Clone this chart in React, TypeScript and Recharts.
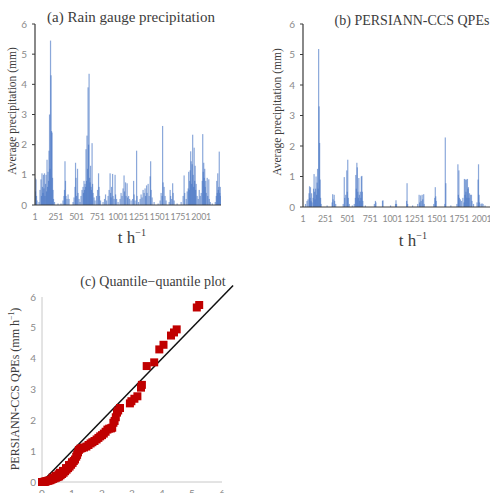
import React from 'react';
import {
  BarChart,
  Bar,
  XAxis,
  YAxis,
  ScatterChart,
  Scatter,
  ZAxis,
  ReferenceLine,
} from 'recharts';

// Hourly rain-gauge spikes (hour index, mm)
const gaugeHours = [
  1, 7, 13, 19, 25, 49, 61, 73, 79, 85, 91, 97, 103, 109, 115, 121, 128, 134, 140, 146,
  152, 158, 164, 170, 176, 182, 188, 194, 200, 206, 212, 218, 224, 236, 278, 314, 338, 350,
  356, 362, 368, 374, 386, 399, 411, 459, 471, 483, 489, 495, 501, 513, 519, 531, 543, 555,
  567, 579, 585, 591, 597, 603, 609, 615, 621, 627, 633, 640, 646, 652, 658, 664, 670, 676,
  682, 688, 694, 700, 712, 724, 742, 754, 766, 772, 778, 790, 820, 838, 850, 863, 881, 893,
  905, 911, 917, 923, 935, 941, 953, 965, 971, 983, 1001, 1025, 1037, 1049, 1061, 1073,
  1079, 1091, 1097, 1110, 1116, 1128, 1140, 1158, 1176, 1188, 1194, 1206, 1224, 1230, 1248,
  1266, 1278, 1290, 1302, 1314, 1326, 1332, 1344, 1350, 1363, 1375, 1387, 1393, 1399, 1411,
  1435, 1483, 1507, 1519, 1531, 1537, 1543, 1555, 1567, 1579, 1616, 1628, 1634, 1646, 1658,
  1664, 1676, 1712, 1760, 1784, 1796, 1803, 1821, 1833, 1845, 1851, 1857, 1863, 1869, 1875,
  1881, 1887, 1893, 1899, 1905, 1911, 1917, 1923, 1929, 1935, 1941, 1953, 1966, 1978, 1990,
  2002, 2014, 2020, 2026, 2032, 2038, 2044, 2050, 2056, 2062, 2074, 2080, 2093, 2099, 2111,
  2135, 2171, 2183, 2189, 2195, 2201, 2207, 2213, 2219, 2225, 2231, 2237,
];
const gaugeMm = [
  0.9, 0.45, 0.85, 0.3, 0.15, 0.1, 0.5, 0.85, 0.3, 1.05, 0.6, 0.4, 1.0, 0.55, 1.05, 0.3, 0.7, 1.0, 0.45, 1.5,
  0.6, 1.1, 0.8, 1.8, 3.0, 1.2, 5.45, 4.3, 2.45, 2.4, 0.9, 0.5, 0.2, 0.1, 0.05, 0.05, 0.15, 0.3,
  0.5, 1.45, 0.8, 0.3, 0.2, 0.35, 0.2, 0.1, 0.25, 0.6, 1.4, 0.9, 0.3, 1.2, 0.4, 0.2, 0.1, 0.3,
  0.5, 0.6, 0.4, 0.8, 0.5, 0.7, 0.6, 1.85, 0.8, 2.3, 1.2, 3.9, 2.0, 4.35, 0.9, 0.75, 1.3, 0.6,
  0.5, 2.05, 0.7, 0.4, 0.25, 0.15, 0.3, 0.5, 1.05, 0.6, 0.3, 0.15, 0.1, 0.2, 0.35, 0.15, 0.3, 0.5,
  1.05, 0.4, 0.25, 0.6, 1.03, 0.3, 0.2, 1.0, 0.35, 0.2, 0.1, 0.2, 0.4, 0.3, 0.55, 0.98,
  0.45, 0.75, 0.3, 0.72, 0.25, 0.3, 0.2, 0.15, 0.2, 0.8, 0.35, 0.15, 1.8, 0.3, 0.1,
  0.2, 0.35, 0.25, 0.5, 0.4, 0.55, 0.3, 0.65, 0.4, 0.7, 0.3, 0.95, 1.45, 0.5, 0.25,
  0.1, 0.05, 0.15, 0.4, 0.3, 2.62, 0.75, 0.6, 0.3, 0.15, 0.1, 0.5, 0.3, 0.2, 0.72,
  0.4, 0.15, 0.05, 0.1, 0.3, 0.98, 0.4, 0.2, 0.45, 0.55, 1.1, 0.5, 0.8, 1.15, 1.78,
  1.45, 0.7, 1.35, 2.33, 1.0, 0.6, 1.9, 0.8, 1.3, 0.5, 0.7, 0.3, 0.2, 0.5, 0.3,
  0.4, 0.8, 2.35, 1.1, 1.4, 0.9, 1.2, 0.6, 0.8, 0.4, 0.9, 0.3, 0.85, 0.2, 0.1,
  0.05, 0.1, 0.3, 0.8, 0.4, 1.05, 0.5, 0.6, 1.77, 0.4, 0.6, 0.3,
];

// Hourly PERSIANN-CCS spikes (hour index, mm)
const ccsHours = [
  29, 46, 57, 69, 74, 80, 85, 91, 97, 102, 114, 119, 125, 131, 136, 142, 147, 153, 159, 164,
  170, 176, 181, 187, 193, 198, 204, 271, 327, 333, 338, 350, 355, 367, 451, 463, 468, 479,
  491, 496, 502, 508, 519, 553, 575, 587, 592, 598, 604, 609, 615, 620, 626, 632, 637, 643,
  649, 654, 660, 665, 671, 699, 800, 812, 817, 891, 896, 981, 1037, 1042, 1048, 1161, 1166,
  1172, 1228, 1285, 1301, 1307, 1318, 1324, 1335, 1341, 1352, 1358, 1465, 1476, 1482, 1487,
  1493, 1589, 1594, 1600, 1656, 1724, 1735, 1741, 1746, 1752, 1763, 1775, 1791, 1803, 1808,
  1814, 1819, 1825, 1831, 1836, 1842, 1848, 1853, 1859, 1865, 1876, 1887, 1893, 1910, 1949,
  1961, 1966, 1972, 1978, 1994, 2005, 2017, 2039, 2120, 2180,
];
const ccsMm = [
  0.1, 0.2, 0.25, 0.45, 0.68, 0.3, 0.65, 0.2, 0.45, 0.15, 0.3, 0.6, 1.08, 0.5, 0.25, 0.6, 1.0, 0.4, 0.8, 1.25,
  0.6, 5.18, 3.3, 2.1, 0.9, 0.3, 0.1, 0.05, 0.15, 0.42, 0.25, 0.4, 0.2, 0.1, 0.1, 0.98, 0.3, 0.4,
  1.2, 0.5, 1.55, 0.3, 0.1, 0.05, 0.1, 0.3, 1.05, 0.6, 1.45, 1.3, 0.5, 0.3, 0.95, 0.4, 0.2, 0.5,
  0.3, 1.0, 1.02, 0.5, 0.2, 0.05, 0.1, 0.2, 0.15, 0.2, 0.22, 0.05, 0.1, 0.22, 0.1, 0.2, 0.78,
  0.1, 0.05, 0.1, 0.4, 0.15, 0.38, 0.2, 0.4, 0.25, 0.42, 0.1, 0.1, 0.3, 0.65, 0.35,
  0.2, 0.1, 2.28, 0.78, 0.05, 0.1, 1.4, 0.4, 1.2, 0.3, 0.25, 0.2, 0.3, 0.15, 0.92,
  0.4, 0.9, 0.5, 0.9, 0.3, 0.92, 0.6, 0.65, 0.3, 0.45, 0.4, 0.4, 0.2, 0.1, 0.15,
  0.9, 1.4, 0.4, 0.15, 0.1, 0.12, 0.1, 0.05, 0.1, 0.15,
];

const hourTicks = [1, 251, 501, 751, 1001, 1251, 1501, 1751, 2001];
const depthTicks = [0, 1, 2, 3, 4, 5, 6];

// Quantile pairs: gauge quantile (x) vs PERSIANN-CCS quantile (y), mm/h
const qqGauge = [
  0.0, 0.02, 0.05, 0.08, 0.1, 0.13, 0.16, 0.2, 0.24, 0.28, 0.32, 0.35, 0.37, 0.42, 0.45, 0.47, 0.52, 0.55,
  0.57, 0.6, 0.62, 0.67, 0.7, 0.72, 0.77, 0.8, 0.82, 0.87, 0.9, 0.92, 0.97, 1.0, 1.02, 1.06, 1.1, 1.14,
  1.17, 1.2, 1.23, 1.28, 1.33, 1.4, 1.48, 1.55, 1.62, 1.68, 1.75, 1.82, 1.88, 1.94, 2.0, 2.06, 2.12,
  2.18, 2.24, 2.3, 2.34, 2.38, 2.42, 2.46, 2.5, 2.54, 2.6, 2.93, 2.98, 3.08, 3.18, 3.3, 3.33, 3.49,
  3.74, 3.91, 4.05, 4.3, 4.4, 4.49, 5.16, 5.24,
];
const qqCcs = [
  0.0, 0.0, 0.0, 0.01, 0.01, 0.02, 0.03, 0.04, 0.05, 0.06, 0.08, 0.14, 0.1, 0.12, 0.2, 0.14, 0.16, 0.25,
  0.18, 0.3, 0.22, 0.26, 0.36, 0.3, 0.35, 0.45, 0.4, 0.45, 0.55, 0.5, 0.56, 0.64, 0.62, 0.68, 0.73, 0.82,
  0.88, 0.96, 1.04, 1.08, 1.1, 1.12, 1.15, 1.2, 1.25, 1.29, 1.33, 1.38, 1.43, 1.48, 1.52, 1.57, 1.63,
  1.7, 1.73, 1.74, 1.76, 1.92, 1.98, 2.1, 2.25, 2.32, 2.4, 2.55, 2.62, 2.7, 2.78, 3.06, 3.15, 3.76,
  3.88, 4.3, 4.45, 4.75, 4.85, 4.95, 5.66, 5.74,
];

const gaugeData = gaugeHours.map((hour, i) => ({ hour, mm: gaugeMm[i] }));
const ccsData = ccsHours.map((hour, i) => ({ hour, mm: ccsMm[i] }));
const qqData = qqGauge.map((g, i) => ({ gauge: g, ccs: qqCcs[i] }));

const serif = '"Liberation Serif", "Times New Roman", serif';
const tickFont = { fontFamily: 'Lato, "Liberation Sans", sans-serif', fontSize: 10, fill: '#8a8a8a' };
const hourTickFont = { ...tickFont, fontSize: 8.8, letterSpacing: -0.2 };
const axisDark = '#3a3a3a';
const barBlue = '#4472C4';

const abs = (left: number, top: number): React.CSSProperties => ({
  position: 'absolute',
  left,
  top,
});

// Thin hourly bar: keeps the scaled x centre and height, with a fixed narrow width
const SPIKE_W = 1.2;
const Spike = (props: any) => {
  const { x, y, width, height } = props;
  if (!height || height <= 0) return null;
  const cx = x + width / 2;
  return <rect x={cx - SPIKE_W / 2} y={y} width={SPIKE_W} height={height} fill={barBlue} fillOpacity={0.62} />;
};

const Title = ({ x, y, children, size = 14 }: { x: number; y: number; children: React.ReactNode; size?: number }) => (
  <div
    style={{
      ...abs(x, y),
      transform: 'translate(-50%, -50%)',
      whiteSpace: 'nowrap',
      fontFamily: serif,
      fontSize: size,
      color: '#3c3c3c',
    }}
  >
    {children}
  </div>
);

const VTitle = ({ x, y, children, size = 12 }: { x: number; y: number; children: React.ReactNode; size?: number }) => (
  <div
    style={{
      ...abs(x, y),
      transform: 'translate(-50%, -50%) rotate(-90deg)',
      whiteSpace: 'nowrap',
      fontFamily: serif,
      fontSize: size,
      color: '#3c3c3c',
    }}
  >
    {children}
  </div>
);

const PerHour = () => (
  <span>
    t h<sup style={{ fontSize: '0.6em' }}>−1</sup>
  </span>
);

const HourlyBars = ({
  data,
  width,
  height,
  yAxisWidth,
  right,
}: {
  data: { hour: number; mm: number }[];
  width: number;
  height: number;
  yAxisWidth: number;
  right: number;
}) => (
  <BarChart width={width} height={height} data={data} margin={{ top: 24, right, bottom: 15, left: 0 }}>
    <XAxis
      dataKey="hour"
      type="number"
      domain={[1, 2240]}
      ticks={hourTicks}
      interval={0}
      allowDataOverflow
      tick={hourTickFont}
      tickLine={false}
      tickSize={6}
      tickMargin={3}
      axisLine={{ stroke: axisDark, strokeWidth: 1.2 }}
      height={30}
    />
    <YAxis
      type="number"
      domain={[0, 6]}
      ticks={depthTicks}
      interval={0}
      tick={tickFont}
      tickLine={{ stroke: axisDark }}
      tickSize={3}
      tickMargin={5}
      axisLine={{ stroke: axisDark, strokeWidth: 1.2 }}
      width={yAxisWidth}
    />
    <Bar dataKey="mm" fill={barBlue} shape={<Spike />} isAnimationActive={false} />
  </BarChart>
);

export default function App() {
  return (
    <div
      style={{
        position: 'fixed',
        left: 0,
        top: 0,
        width: 490,
        height: 493,
        overflow: 'hidden',
        background: '#fff',
      }}
    >
      {/* (a) rain gauge */}
      <div style={abs(0, 0)}>
        <HourlyBars data={gaugeData} width={245} height={250} yAxisWidth={35} right={24} />
      </div>
      <Title x={131} y={17} size={15}>(a) Rain gauge precipitation</Title>
      <VTitle x={12} y={111} size={11.5}>Average precipitation (mm)</VTitle>
      <Title x={132} y={237} size={17}>
        <PerHour />
      </Title>

      {/* (b) PERSIANN-CCS */}
      <div style={abs(250, 0)}>
        <HourlyBars data={ccsData} width={262} height={252} yAxisWidth={53} right={9} />
      </div>
      <Title x={412} y={21}>(b) PERSIANN-CCS QPEs</Title>
      <VTitle x={277} y={112} size={11.5}>Average precipitation (mm)</VTitle>
      <Title x={413} y={240} size={17}>
        <PerHour />
      </Title>

      {/* (c) quantile-quantile */}
      <div style={abs(0, 250)}>
        <ScatterChart width={250} height={262} margin={{ top: 47, right: 28, bottom: 10, left: 0 }}>
          <XAxis
            dataKey="gauge"
            type="number"
            domain={[0, 6]}
            ticks={depthTicks}
            interval={0}
            tick={tickFont}
            tickLine={false}
            tickSize={6}
            tickMargin={2}
            axisLine={{ stroke: '#c8c8c8' }}
            height={20}
          />
          <YAxis
            dataKey="ccs"
            type="number"
            domain={[0, 6]}
            ticks={depthTicks}
            interval={0}
            tick={tickFont}
            tickLine={false}
            tickSize={3}
            tickMargin={3}
            axisLine={{ stroke: '#c8c8c8' }}
            width={42}
          />
          <ZAxis range={[30, 30]} />
          <ReferenceLine
            segment={[
              { x: 0, y: 0 },
              { x: 6.37, y: 6.37 },
            ]}
            stroke="#111"
            strokeWidth={1.5}
            ifOverflow="visible"
          />
          <Scatter data={qqData} shape="square" fill="#C00000" isAnimationActive={false} />
        </ScatterChart>
      </div>
      <Title x={153} y={282}>(c) Quantile−quantile plot</Title>
      <VTitle x={15} y={389}>
        <span>
          PERSIANN-CCS QPEs (mm h<sup style={{ fontSize: '0.65em' }}>−1</sup>)
        </span>
      </VTitle>
    </div>
  );
}
